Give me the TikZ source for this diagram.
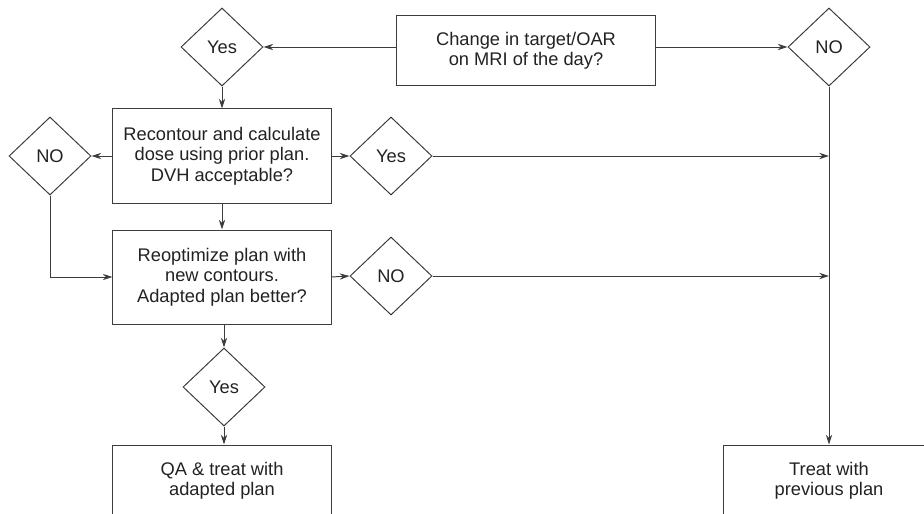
\documentclass[tikz,border=0pt]{standalone}
\usepackage{fontspec}
\setmainfont{Liberation Sans}
\usetikzlibrary{shapes.geometric,arrows.meta}
\definecolor{linegray}{HTML}{3C3C3C}
\definecolor{textgray}{HTML}{222222}
\begin{document}
\begin{tikzpicture}[
		x = 0.025cm, y = -0.025cm,
		every node/.style = {font=\fontsize{13}{14.5}\selectfont, text=textgray},
		stepbox/.style = {draw=linegray, line width=0.7pt, align=center, inner sep=0,
			minimum width=5.45cm, minimum height=2.35cm},
		choice/.style = {draw=linegray, line width=0.7pt, diamond, inner sep=0,
			minimum width=2.05cm, minimum height=1.95cm},
		flow/.style = {draw=linegray, line width=0.7pt, -{Stealth[length=7pt,width=4.5pt]}}
	]

	\useasboundingbox (0,0) rectangle (924,513);

	% boxes
	\node[stepbox, minimum width=6.45cm, minimum height=1.725cm] (change) at (526,50.5) {Change in target/OAR\\on MRI of the day?};
	\node[stepbox] (recontour) at (222,156) {Recontour and calculate\\dose using prior plan.\\DVH acceptable?};
	\node[stepbox] (reopt) at (222,277) {Reoptimize plan with\\new contours.\\Adapted plan better?};
	\node[stepbox, minimum height=1.8cm] (qa) at (222,481) {QA \& treat with\\adapted plan};
	\node[stepbox, minimum width=5.25cm, minimum height=1.8cm] (prev) at (829,481) {Treat with\\previous plan};

	% decisions
	\node[choice] (yesA) at (222,47) {Yes};
	\node[choice] (noA) at (829,47) {NO};
	\node[choice] (noB) at (50,156) {NO};
	\node[choice] (yesB) at (391,156) {Yes};
	\node[choice] (noC) at (391,276) {NO};
	\node[choice] (yesC) at (224,387) {Yes};

	% connectors
	\draw[flow] (change.west |- yesA.east) -- (yesA.east);
	\draw[flow] (change.east |- noA.west) -- (noA.west);
	\draw[flow] (yesA.south) -- (recontour.north);
	\draw[flow] (recontour.west) -- (noB.east);
	\draw[flow] (recontour.east) -- (yesB.west);
	\draw[flow] (yesB.east) -- (noA |- yesB);
	\draw[flow] (recontour.south) -- (reopt.north);
	\draw[flow] (noB.south) |- (reopt.west);
	\draw[flow] (reopt.east) -- (noC.west);
	\draw[flow] (noC.east) -- (noA |- noC);
	\draw[flow] (reopt.south -| yesC.north) -- (yesC.north);
	\draw[flow] (yesC.south) -- (qa.north -| yesC.south);
	\draw[flow] (noA.south) -- (prev.north);

\end{tikzpicture}
\end{document}
